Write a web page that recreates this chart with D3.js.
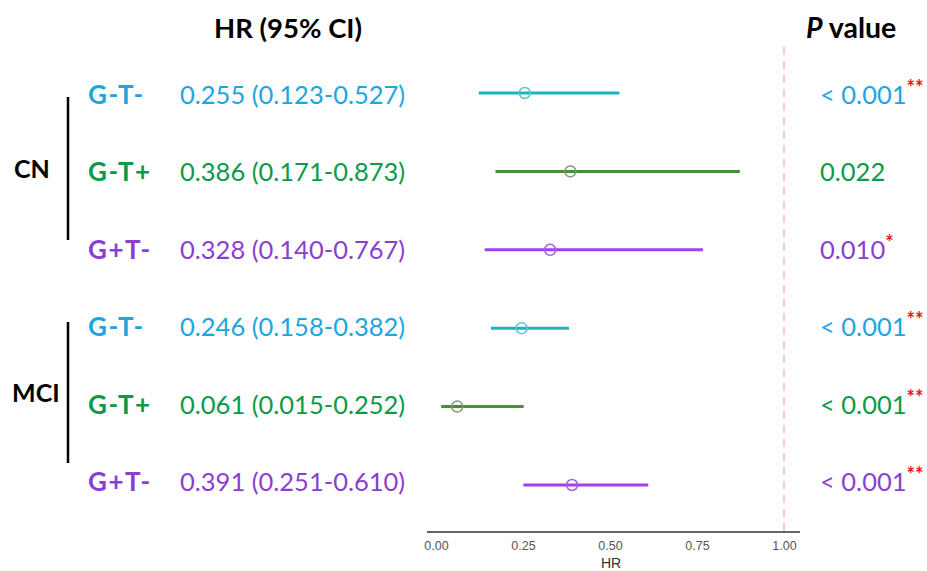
<!DOCTYPE html>
<html>
<head>
<meta charset="utf-8">
<script src="https://cdn.jsdelivr.net/npm/d3@7"></script>
<style>
  body { margin: 0; background: #fff; }
  svg { display: block; }
</style>
</head>
<body>
<div id="chart"></div>
<script>
  'use strict';

  // data
  var groups = ['CN', 'CN', 'CN', 'MCI', 'MCI', 'MCI'];
  var labels = ['G-T-', 'G-T+', 'G+T-', 'G-T-', 'G-T+', 'G+T-'];
  var hr = [0.255, 0.386, 0.328, 0.246, 0.061, 0.391];
  var lower = [0.123, 0.171, 0.140, 0.158, 0.015, 0.251];
  var upper = [0.527, 0.873, 0.767, 0.382, 0.252, 0.610];
  var pText = ['< 0.001', '0.022', '0.010', '< 0.001', '< 0.001', '< 0.001'];
  var stars = ['**', '', '*', '**', '**', '**'];
  var xTicks = [0, 0.25, 0.5, 0.75, 1];

  var w = 927, h = 571;
  var textCol = { 'G-T-': '#1ea5df', 'G-T+': '#0c9a48', 'G+T-': '#8a3fd1' };
  var lineCol = { 'G-T-': '#1bb3c0', 'G-T+': '#4c8a3e', 'G+T-': '#a23ef0' };
  var dotCol = { 'G-T-': '#5cc4cc', 'G-T+': '#7a9a78', 'G+T-': '#a45ee6' };

  var rows = hr.map(function(d, i) {
    return { i: i, group: groups[i], label: labels[i], hr: d, lo: lower[i], hi: upper[i], p: pText[i], star: stars[i] };
  });

  var x = d3.scaleLinear().domain([0, 1]).range([436, 784]);
  var y = d3.scalePoint().domain(d3.range(rows.length)).range([93, 485]);
  // the text table sits slightly off the plot rows
  var ty = d3.scalePoint().domain(d3.range(rows.length)).range([95, 482]);

  var svg = d3.select('#chart').append('svg')
    .attr('width', w)
    .attr('height', h);

  var font = 'Lato, "Open Sans", sans-serif';

  // reference line at HR = 1
  svg.append('line')
    .attr('x1', x(1)).attr('x2', x(1))
    .attr('y1', 47).attr('y2', 532)
    .attr('stroke', '#f7c6d2')
    .attr('stroke-width', 2)
    .attr('stroke-dasharray', '8,6');

  // x axis
  var axis = svg.append('g')
    .attr('transform', 'translate(0,532)')
    .call(d3.axisBottom(x).tickValues(xTicks).tickFormat(d3.format('.2f')).tickSize(0).tickPadding(9));
  axis.select('.domain').remove();
  axis.append('line')
    .attr('x1', 427).attr('x2', 800)
    .attr('stroke', '#333').attr('stroke-width', 1.5);
  axis.selectAll('text')
    .attr('fill', '#555')
    .style('font-family', '"Liberation Sans", Arial, sans-serif')
    .style('font-size', '12.5px');

  svg.append('text')
    .attr('x', x(0.5) + 1).attr('y', 568)
    .attr('text-anchor', 'middle')
    .attr('fill', '#333')
    .style('font-family', '"Liberation Sans", Arial, sans-serif')
    .style('font-size', '14px')
    .text('HR');

  // CI lines + points
  var marks = svg.append('g');
  marks.selectAll('line.ci').data(rows).enter().append('line')
    .attr('class', 'ci')
    .attr('x1', function(d) { return x(d.lo); })
    .attr('x2', function(d) { return x(d.hi); })
    .attr('y1', function(d) { return y(d.i); })
    .attr('y2', function(d) { return y(d.i); })
    .attr('stroke', function(d) { return lineCol[d.label]; })
    .attr('stroke-width', 3);
  marks.selectAll('circle').data(rows).enter().append('circle')
    .attr('cx', function(d) { return x(d.hr); })
    .attr('cy', function(d) { return y(d.i); })
    .attr('r', 5.5)
    .attr('fill', 'none')
    .attr('stroke', function(d) { return dotCol[d.label]; })
    .attr('stroke-width', 1.5);

  // headers
  svg.append('text')
    .attr('x', 288).attr('y', 38)
    .attr('text-anchor', 'middle')
    .style('font-family', font).style('font-weight', 'bold').style('font-size', '27.5px')
    .text('HR (95% CI)');
  var ph = svg.append('text')
    .attr('x', 806).attr('y', 38)
    .style('font-family', font).style('font-weight', 'bold').style('font-size', '28.5px');
  ph.append('tspan').style('font-style', 'italic').text('P');
  ph.append('tspan').text(' value');

  // row text
  var txt = svg.append('g').style('font-family', font);
  txt.selectAll('text.lab').data(rows).enter().append('text')
    .attr('class', 'lab')
    .attr('x', 88)
    .attr('y', function(d) { return ty(d.i) + 9; })
    .attr('fill', function(d) { return textCol[d.label]; })
    .style('font-weight', 'bold').style('font-size', '26px')
    .style('letter-spacing', '1.5px')
    .text(function(d) { return d.label; });

  txt.selectAll('text.hr').data(rows).enter().append('text')
    .attr('class', 'hr')
    .attr('x', 180)
    .attr('y', function(d) { return ty(d.i) + 9; })
    .attr('fill', function(d) { return textCol[d.label]; })
    .style('font-size', '25.5px')
    .text(function(d) { return d3.format('.3f')(d.hr) + ' (' + d3.format('.3f')(d.lo) + '-' + d3.format('.3f')(d.hi) + ')'; });

  var pt = txt.selectAll('text.p').data(rows).enter().append('text')
    .attr('class', 'p')
    .attr('x', 820)
    .attr('y', function(d) { return ty(d.i) + 9; })
    .style('font-size', '25.5px');
  pt.append('tspan')
    .attr('fill', function(d) { return textCol[d.label]; })
    .text(function(d) { return d.p; });
  pt.append('tspan')
    .attr('fill', '#e8141c')
    .attr('dy', -9)
    .style('font-size', '20px')
    .style('font-weight', 'bold')
    .text(function(d) { return d.star; });

  // group brackets
  var grp = [
    { name: 'CN', y0: 97, y1: 240, tx: 14 },
    { name: 'MCI', y0: 322, y1: 463, tx: 12 }
  ];
  grp.forEach(function(g) {
    svg.append('line')
      .attr('x1', 68).attr('x2', 68)
      .attr('y1', g.y0).attr('y2', g.y1)
      .attr('stroke', '#000').attr('stroke-width', 2.5);
    svg.append('text')
      .attr('x', g.tx).attr('y', (g.y0 + g.y1) / 2 + 9)
      .style('font-family', font).style('font-weight', 'bold').style('font-size', '25px')
      .text(g.name);
  });
</script>
</body>
</html>
